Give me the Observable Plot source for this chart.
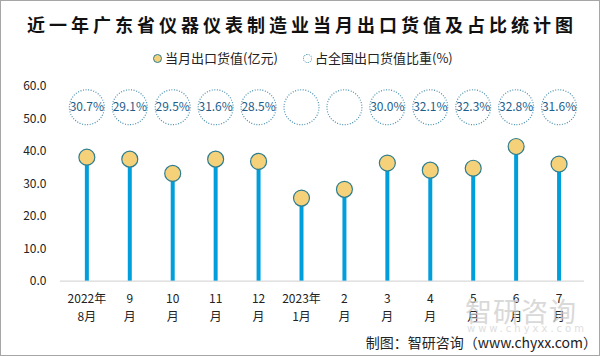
<!DOCTYPE html>
<html><head><meta charset="utf-8">
<script src="https://cdn.jsdelivr.net/npm/d3@7"></script>
<script src="https://cdn.jsdelivr.net/npm/@observablehq/plot@0.6"></script>
<style>
html,body{margin:0;padding:0;background:#fff;}
#wrap{position:relative;width:600px;height:356px;box-sizing:border-box;border:1px solid #a6a6a6;overflow:hidden;font-family:"Noto Sans CJK SC","Noto Sans",sans-serif;}
#title{position:absolute;left:2px;top:10px;width:598px;text-align:center;font-size:18px;line-height:26px;font-weight:bold;color:#111;letter-spacing:4px;}
#legend{position:absolute;top:47px;left:0;width:600px;font-size:13px;color:#222;}
.li{position:absolute;top:0;white-space:nowrap;}
.mk{display:inline-block;width:8px;height:8px;border-radius:50%;vertical-align:middle;margin-right:3px;position:relative;top:-1px;}
#chart{position:absolute;left:-1px;top:69px;}
#wm{position:absolute;left:464px;top:290px;color:#cdcdcd;font-size:27px;letter-spacing:1px;opacity:0.75;}
#wm2{position:absolute;left:466px;top:322px;color:#d4d4d4;font-size:10px;letter-spacing:3px;opacity:0.75;font-family:"DejaVu Sans";white-space:nowrap;}
#cap{position:absolute;right:2px;top:331px;font-size:14px;color:#222;}
</style></head>
<body><div id="wrap">
<div id="title">近一年广东省仪器仪表制造业当月出口货值及占比统计图</div>
<div id="legend">
 <span class="li" style="left:152px"><span class="mk" style="background:#f5d27a;border:1px solid #2e7d8f;width:7px;height:7px"></span>当月出口货值(亿元)</span>
 <span class="li" style="left:302px"><span class="mk" style="background:#fff;border:1px dotted #4a90b0;width:7px;height:7px"></span>占全国出口货值比重(%)</span>
</div>
<div id="chart"></div>
<div id="wm">智研咨询</div>
<div id="wm2">www.chyxx.com</div>
<div id="cap">制图：智研咨询（www.chyxx.com）</div>
</div>
<script>
const months = ["2022年\n8月","9\n月","10\n月","11\n月","12\n月","2023年\n1月","2\n月","3\n月","4\n月","5\n月","6\n月","7\n月"];
const exportValue = [38.2, 37.6, 33.2, 37.6, 36.9, 25.6, 28.3, 36.4, 34.2, 34.8, 41.5, 36.1];
const sharePct = [30.7, 29.1, 29.5, 31.6, 28.5, null, null, 30.0, 32.1, 32.3, 32.8, 31.6];
const yTicks = [0, 10, 20, 30, 40, 50, 60];
const circleLevel = 53.6;

const data = months.map((m, i) => ({month: m, value: exportValue[i], share: sharePct[i]}));

const chart = Plot.plot({
  width: 600,
  height: 262,
  marginTop: 16,
  marginBottom: 51,
  marginLeft: 60,
  marginRight: 15,
  style: {fontFamily: '"Noto Sans CJK SC","Noto Sans",sans-serif', fontSize: "12px", color: "#222", background: "transparent", overflow: "visible"},
  x: {type: "band", domain: months, paddingInner: 0, paddingOuter: 0, range: [60, 585], label: null},
  y: {domain: [0, 60], label: null},
  marks: [
    Plot.axisY({ticks: yTicks, tickFormat: d3.format(".1f"), tickSize: 0, tickPadding: 14, fontSize: 12, fill: "#222", label: null}),
    Plot.axisX({tickSize: 0, tickPadding: 10, fontSize: 12, fill: "#222", lineHeight: 1.45, label: null}),
    Plot.ruleY([0], {stroke: "#d9d9d9", strokeWidth: 1.2}),
    Plot.ruleX(data, {x: "month", y1: 0, y2: "value", stroke: "#009fdb", strokeWidth: 4}),
    Plot.dot(data, {x: "month", y: "value", r: 8, fill: "#f5d27a", stroke: "#2e7d8f", strokeWidth: 1.2}),
    Plot.dot(data, {x: "month", y: () => circleLevel, r: 17.5, fill: "white", stroke: "#4a90b0", strokeWidth: 1.2, strokeDasharray: "1,1.6"}),
    Plot.text(data.filter(d => d.share != null), {x: "month", y: () => circleLevel, text: d => d.share.toFixed(1) + "%", fill: "#1c5e8c", fontSize: 12})
  ]
});
document.getElementById("chart").appendChild(chart);
</script>
</body></html>
